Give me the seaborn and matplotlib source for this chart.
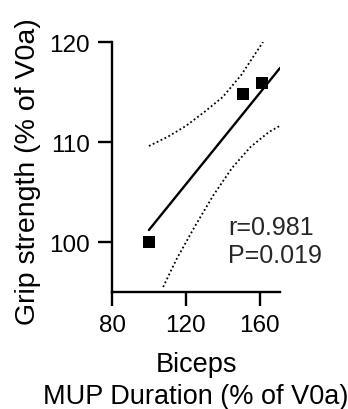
import matplotlib
matplotlib.use("Agg")
import matplotlib.pyplot as plt
import seaborn as sns

# data
mup_duration = [100, 151, 161]        # Biceps MUP duration (% of V0a)
grip_strength = [100.0, 114.8, 115.9]  # Grip strength (% of V0a)

# fitted line (ends) and 95% confidence band
fit_x = [100, 171]
fit_y = [101.2, 117.4]
upper_x = [100, 110, 120, 130, 140, 150, 161.8]
upper_y = [109.6, 110.5, 111.6, 113.0, 114.5, 116.7, 120.0]
lower_x = [107.7, 115, 125, 135, 145, 155, 165, 170.8]
lower_y = [95.5, 98.3, 101.6, 104.7, 107.4, 109.5, 111.0, 111.6]

r_text = "r=0.981"
p_text = "P=0.019"

sns.set_style("ticks")
plt.rcParams["font.family"] = ["Liberation Sans", "DejaVu Sans"]

fig = plt.figure(figsize=(3.48, 4.10), dpi=100)
ax = fig.add_axes([112 / 348, 1 - 293 / 410, 168 / 348, 250 / 410])

# confidence band (dotted) and fit line
for bx, by in [(upper_x, upper_y), (lower_x, lower_y)]:
    sns.lineplot(x=bx, y=by, ax=ax, color="black", linewidth=1.3,
                 linestyle=(0, (1, 1.4)), estimator=None, sort=False)
sns.lineplot(x=fit_x, y=fit_y, ax=ax, color="black", linewidth=1.7,
             estimator=None, sort=False)

# points
sns.scatterplot(x=mup_duration, y=grip_strength, ax=ax, marker="s", s=85,
                color="black", linewidth=0, zorder=3)

ax.set_xlim(80, 171)
ax.set_ylim(95, 120)
ax.set_xticks([80, 120, 160])
ax.set_yticks([100, 110, 120])

sns.despine(ax=ax)
for sp in ["left", "bottom"]:
    ax.spines[sp].set_linewidth(1.7)
    ax.spines[sp].set_color("black")
ax.tick_params(axis="both", length=10, width=1.7, color="black",
               labelsize=17.5, labelcolor="black", pad=6)

ax.text(142.9, 100.8, r_text, fontsize=18, ha="left", va="baseline")
ax.text(142.9, 98.05, p_text, fontsize=18, ha="left", va="baseline")

ax.set_ylabel("Grip strength (% of V0a)", fontsize=20.5, color="black")
ax.yaxis.set_label_coords(-0.42, 0.486)
ax.set_xlabel("Biceps\nMUP Duration (% of V0a)", fontsize=19.5, color="black",
              linespacing=1.3)
ax.xaxis.set_label_coords(0.5, -0.236)

fig.savefig("out.png", dpi=100)
